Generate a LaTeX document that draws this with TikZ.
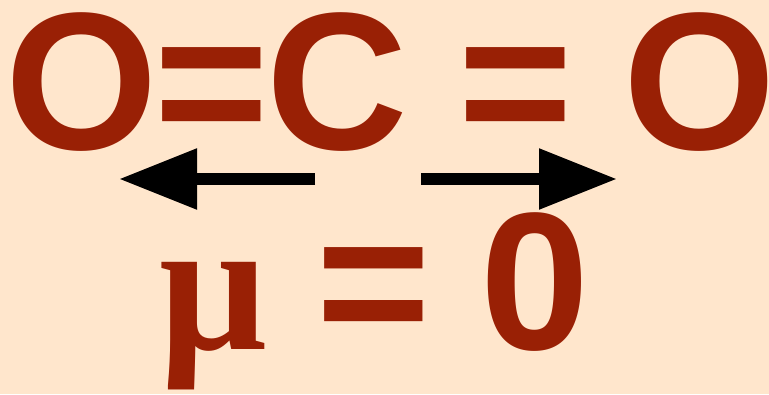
\documentclass[tikz,border=0pt]{standalone}
\usepackage{fontspec}
\setmainfont{Liberation Sans}
\newfontfamily\serifb{Liberation Serif}
\usetikzlibrary{arrows.meta}
\definecolor{bgpeach}{HTML}{FFE6CC}
\definecolor{molred}{HTML}{992005}
\tikzset{
  bigtxt/.style={inner sep=0pt, outer sep=0pt, anchor=base, text=molred,
    font=\fontsize{196pt}{196pt}\selectfont\bfseries},
  mutxt/.style={inner sep=0pt, outer sep=0pt, anchor=base, text=molred,
    font=\fontsize{190pt}{190pt}\selectfont\serifb\bfseries},
  vecarrow/.style={line width=12pt, line cap=butt, draw=black,
    -{Triangle[length=78pt,width=58pt]}}
}
\begin{document}
\begin{tikzpicture}[x=1pt,y=-1pt]
\fill[bgpeach] (0,0) rectangle (769,394);
\useasboundingbox (0,0) rectangle (769,394);
% top row
\node[bigtxt] (o1) at (82,149) {O};
\node[bigtxt] (eq1) at (211.5,149) {=};
\node[bigtxt] (c) at (337,149) {C};
\node[bigtxt] (eq2) at (516,149) {=};
\node[bigtxt] (o2) at (699.5,149) {O};
% dipole arrows
\coordinate (ls) at (315,179);
\coordinate (lt) at (119,179);
\coordinate (rs) at (421,179);
\coordinate (rt) at (617,179);
\draw[vecarrow] (ls) -- (lt);
\draw[vecarrow] (rs) -- (rt);
% bottom row
\node[mutxt] (mu) at (213,349) {μ};
\node[bigtxt] (eq3) at (373.5,349) {=};
\node[bigtxt] (zero) at (534.5,349) {0};
\end{tikzpicture}
\end{document}
